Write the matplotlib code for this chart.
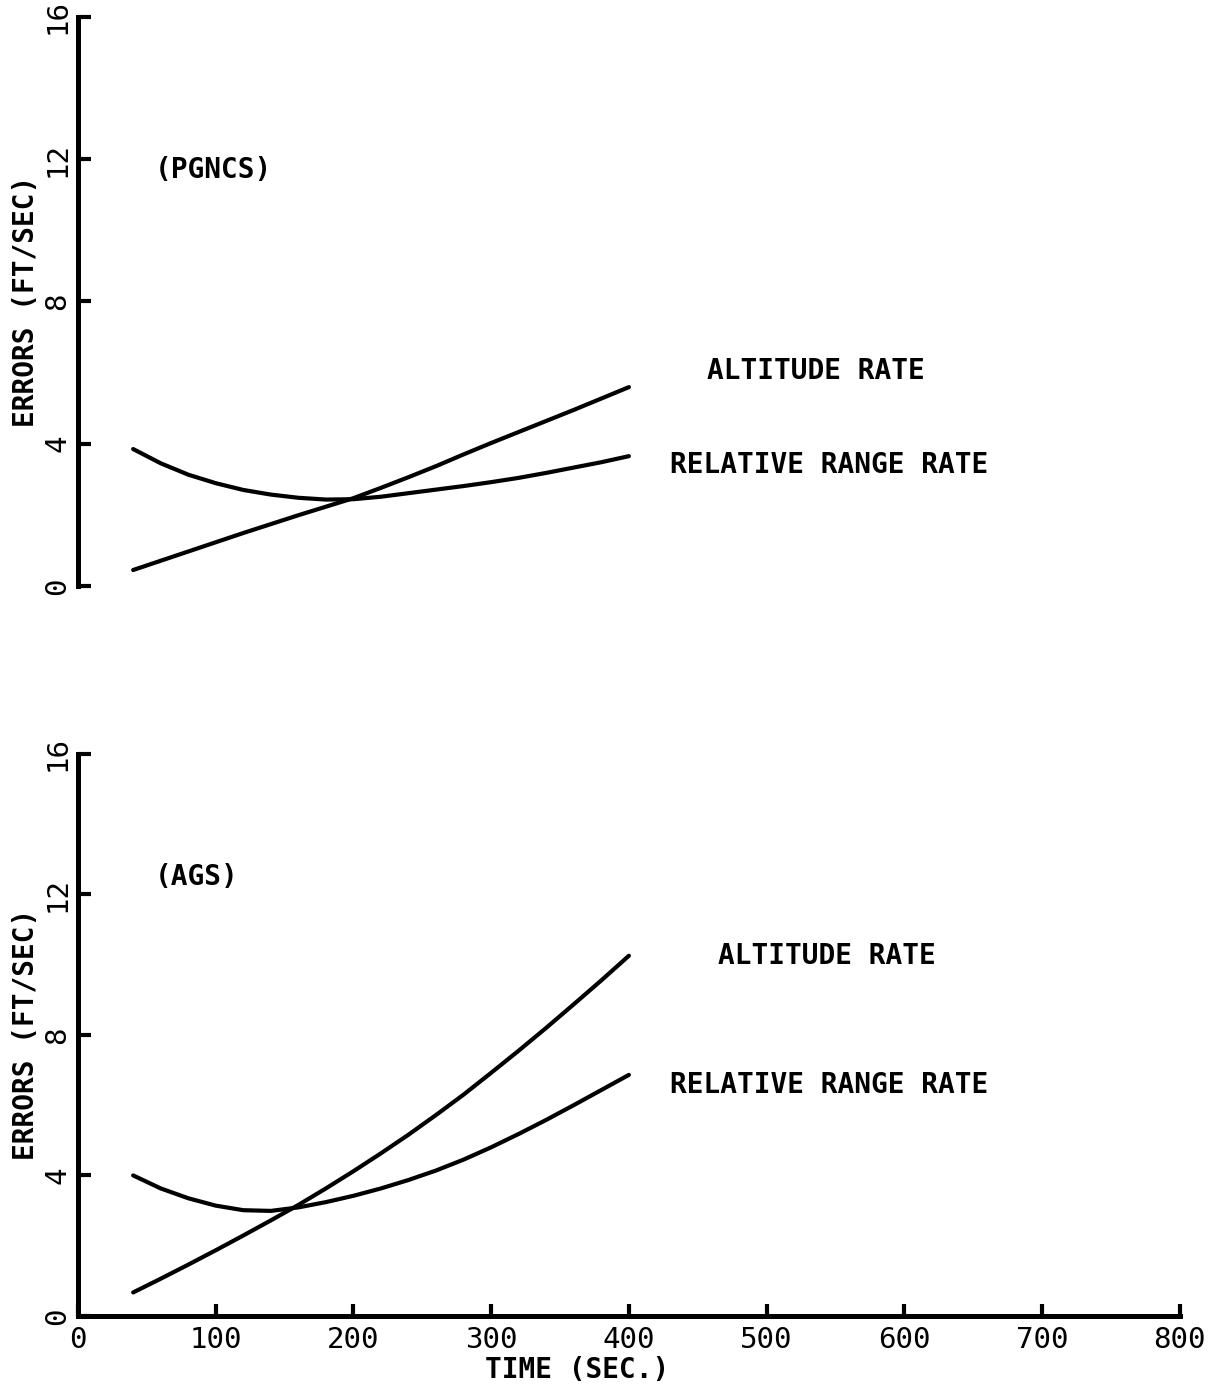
import matplotlib
matplotlib.use("Agg")
import matplotlib.pyplot as plt

# time points (sec) and error curves (ft/sec)
t = [40, 60, 80, 100, 120, 140, 160, 180, 200, 220,
     240, 260, 280, 300, 320, 340, 360, 380, 400]

pgncs_alt = [0.45, 0.71, 0.97, 1.23, 1.49, 1.74, 1.99, 2.23, 2.47, 2.76,
             3.06, 3.37, 3.70, 4.02, 4.33, 4.64, 4.95, 5.27, 5.59]
pgncs_rrr = [3.85, 3.45, 3.13, 2.89, 2.70, 2.57, 2.48, 2.43, 2.44, 2.51,
             2.61, 2.71, 2.81, 2.92, 3.04, 3.18, 3.33, 3.48, 3.65]

ags_alt = [0.67, 1.06, 1.46, 1.87, 2.29, 2.72, 3.16, 3.63, 4.12, 4.63,
           5.16, 5.72, 6.30, 6.92, 7.55, 8.20, 8.87, 9.55, 10.25]
ags_rrr = [4.00, 3.63, 3.35, 3.14, 3.01, 2.99, 3.09, 3.24, 3.42, 3.63,
           3.87, 4.14, 4.45, 4.80, 5.18, 5.58, 6.00, 6.43, 6.86]

yticks = [0, 4, 8, 12, 16]
xticks = [0, 100, 200, 300, 400, 500, 600, 700, 800]

FONT = "DejaVu Sans Mono"
LW = 3.0

fig = plt.figure(figsize=(12.12, 13.92), dpi=100)
ax1 = fig.add_axes([0.0644, 0.579, 0.909, 0.409])
ax2 = fig.add_axes([0.0644, 0.0546, 0.909, 0.404])


def style_axis(ax, show_x):
    ax.set_xlim(0, 800)
    ax.set_ylim(0, 16)
    for s in ["top", "right"]:
        ax.spines[s].set_visible(False)
    ax.spines["left"].set_linewidth(3.6)
    ax.spines["bottom"].set_linewidth(3.6)
    ax.spines["bottom"].set_visible(show_x)
    ax.set_yticks(yticks)
    ax.set_yticklabels([str(v) for v in yticks], rotation=90, va="center",
                       family=FONT, fontsize=21)
    ax.tick_params(axis="y", direction="in", length=9, width=3, pad=5)
    if show_x:
        ax.set_xticks(xticks)
        ax.set_xticklabels([str(v) for v in xticks], family=FONT, fontsize=21)
        ax.tick_params(axis="x", direction="in", length=9, width=3, pad=7)
    else:
        ax.set_xticks([])
    ax.set_ylabel("ERRORS (FT/SEC)", family=FONT, fontweight="bold",
                  fontsize=20, labelpad=2)
    ax.patch.set_visible(False)


for ax in (ax1, ax2):
    style_axis(ax, ax is ax2)

for ax, alt, rrr in ((ax1, pgncs_alt, pgncs_rrr), (ax2, ags_alt, ags_rrr)):
    ax.plot(t, alt, color="black", lw=LW, solid_capstyle="round",
            solid_joinstyle="round")
    ax.plot(t, rrr, color="black", lw=LW, solid_capstyle="round",
            solid_joinstyle="round")

txt = dict(family=FONT, fontweight="bold", fontsize=20, va="center", ha="left")
ax1.text(56, 11.7, "(PGNCS)", **txt)
ax1.text(457, 6.03, "ALTITUDE RATE", **txt)
ax1.text(430, 3.41, "RELATIVE RANGE RATE", **txt)

ax2.text(56, 12.48, "(AGS)", **txt)
ax2.text(465, 10.23, "ALTITUDE RATE", **txt)
ax2.text(430, 6.58, "RELATIVE RANGE RATE", **txt)

ax2.set_xlabel("TIME (SEC.)", family=FONT, fontweight="bold", fontsize=20)
ax2.xaxis.set_label_coords(0.453, -0.072)

fig.savefig("out.png", dpi=100, facecolor="white")
